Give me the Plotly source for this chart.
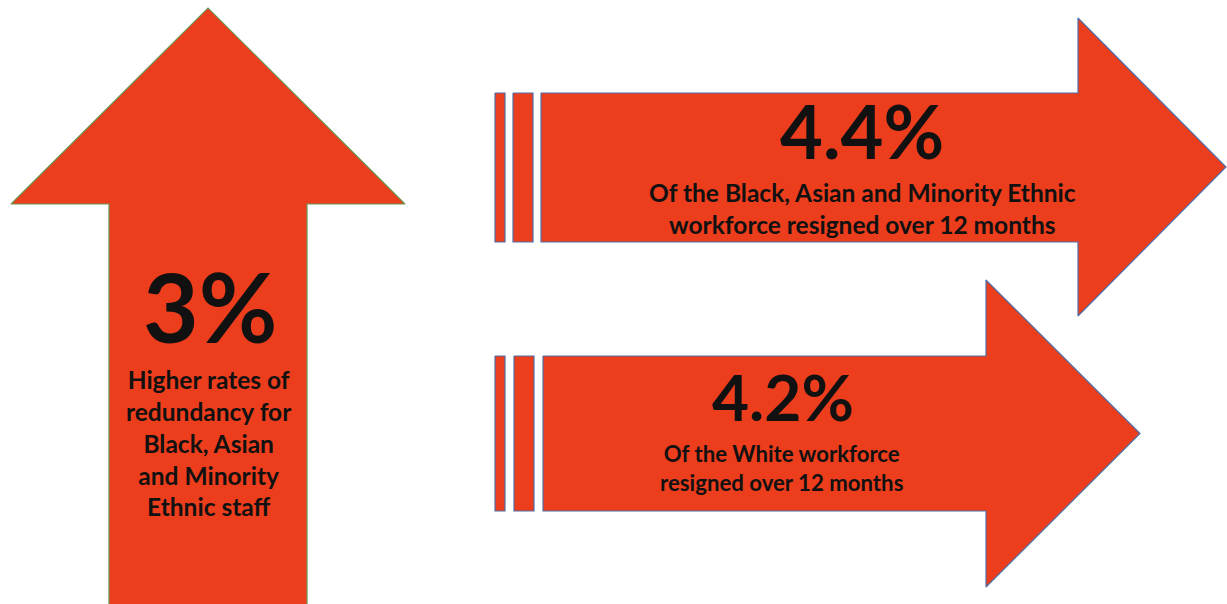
import plotly.graph_objects as go

# ---- content ----
headline_values = ["3%", "4.4%", "4.2%"]
descriptions = [
    "Higher rates of<br>redundancy for<br>Black, Asian<br>and Minority<br>Ethnic staff",
    "Of the Black, Asian and Minority Ethnic<br>workforce resigned over 12 months",
    "Of the White workforce<br>resigned over 12 months",
]

FILL = "#EC3D1C"
TEXT = "#111111"
FONT = "Lato"

W, H = 1227, 604
fig = go.Figure()


def poly(xs, ys, line_color):
    fig.add_trace(go.Scatter(
        x=xs + [xs[0]], y=ys + [ys[0]], mode="lines", fill="toself",
        fillcolor=FILL, line=dict(color=line_color, width=1.2),
        hoverinfo="skip", showlegend=False))


# up arrow
poly([109, 109, 11, 208, 405, 307, 307],
     [612, 204, 204, 8, 204, 204, 612], "#6B9550")

# right arrows
def right_arrow(y0, y1, stripe_xs, body_x, head_x, head_top, head_bot, tip_x):
    blue = "#4F6FA8"
    for sx0, sx1 in stripe_xs:
        poly([sx0, sx1, sx1, sx0], [y0, y0, y1, y1], blue)
    tip_y = (head_top + head_bot) / 2
    poly([body_x, head_x, head_x, tip_x, head_x, head_x, body_x],
         [y0, y0, head_top, tip_y, head_bot, y1, y1], blue)


right_arrow(93, 242, [(495, 505), (513, 533)], 541, 1078, 18, 316, 1226)
right_arrow(356, 511, [(495, 505), (514, 534)], 543, 986, 280, 587, 1140)

ann = []
ann.append(dict(x=210, y=305, text="<b>%s</b>" % headline_values[0],
                font=dict(size=96, color=TEXT, family=FONT)))
ann.append(dict(x=209, y=443, text="<b>%s</b>" % descriptions[0],
                font=dict(size=24.5, color=TEXT, family=FONT)))
ann.append(dict(x=862, y=130, text="<b>%s</b>" % headline_values[1],
                font=dict(size=74, color=TEXT, family=FONT)))
ann.append(dict(x=862, y=208, text="<b>%s</b>" % descriptions[1],
                font=dict(size=24.5, color=TEXT, family=FONT)))
ann.append(dict(x=783, y=396, text="<b>%s</b>" % headline_values[2],
                font=dict(size=64, color=TEXT, family=FONT)))
ann.append(dict(x=782, y=468, text="<b>%s</b>" % descriptions[2],
                font=dict(size=22.2, color=TEXT, family=FONT)))
for a in ann:
    a.update(xref="x", yref="y", showarrow=False, xanchor="center",
             yanchor="middle", align="center")

fig.update_layout(
    width=W, height=H, margin=dict(l=0, r=0, t=0, b=0),
    paper_bgcolor="white", plot_bgcolor="white",
    xaxis=dict(range=[0, W], visible=False, fixedrange=True),
    yaxis=dict(range=[H, 0], visible=False, fixedrange=True),
    annotations=ann,
)
fig.write_html("out.html")
